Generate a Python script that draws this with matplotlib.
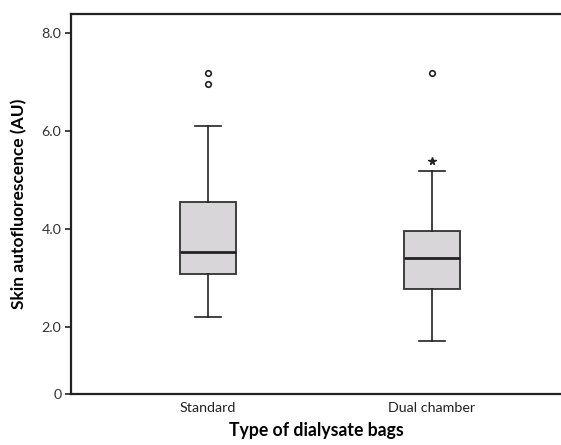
import matplotlib
matplotlib.use("Agg")
import matplotlib.pyplot as plt

# box plot summary
groups = ["Standard", "Dual chamber"]
q1 = [3.08, 2.76]
median = [3.52, 3.40]
q3 = [4.54, 3.96]
whislo = [2.19, 1.71]
whishi = [6.11, 5.18]
outliers = [[7.18, 6.95], [7.18]]   # circles
extremes = [[], [5.39]]             # stars

yticks = [0.63, 2.0, 4.0, 6.0, 8.0]
yticklabels = ["0", "2.0", "4.0", "6.0", "8.0"]

plt.rcParams['font.family'] = ['Lato', 'DejaVu Sans']

fig = plt.figure(figsize=(5.61, 4.45), dpi=100)
ax = fig.add_axes([71/561, 51.3/445, 490/561, 379.7/445])

stats = []
for i in range(len(groups)):
    stats.append(dict(label=groups[i], q1=q1[i], med=median[i], q3=q3[i],
                      whislo=whislo[i], whishi=whishi[i], fliers=outliers[i]))

pos = [1, 2]
ax.bxp(stats, positions=pos, widths=0.254, patch_artist=True, showfliers=True,
       boxprops=dict(facecolor="#d8d6d8", edgecolor="#333333", linewidth=1.3),
       medianprops=dict(color="#222222", linewidth=2.0),
       whiskerprops=dict(color="#222222", linewidth=1.2),
       capprops=dict(color="#222222", linewidth=1.2),
       capwidths=0.12,
       flierprops=dict(marker="o", markersize=4, markerfacecolor="white",
                       markeredgecolor="#222222", markeredgewidth=1.2))

for p, ex in zip(pos, extremes):
    if ex:
        ax.plot([p] * len(ex), ex, linestyle="none", marker="*", markersize=5.5,
                color="#222222")

ax.set_xlim(1 - 137/224, 2 + 129/224)
ax.set_ylim(0.63, 8.39)
ax.set_yticks(yticks)
ax.set_yticklabels(yticklabels)
ax.tick_params(axis="y", length=4, width=1.2, color="#222222", labelsize=10.3,
               labelcolor="#333333", pad=3)
ax.tick_params(axis="x", length=0, labelsize=10.3, labelcolor="#222222", pad=6)

for s in ["left", "bottom", "top"]:
    ax.spines[s].set_linewidth(1.6)
    ax.spines[s].set_color("#222222")
ax.spines["right"].set_visible(False)

ax.set_ylabel("Skin autofluorescence (AU)", fontsize=12.5, fontweight="bold",
              labelpad=10)
ax.set_xlabel("Type of dialysate bags", fontsize=12.7, fontweight="bold",
              labelpad=6)

fig.savefig("out.png", dpi=100)
